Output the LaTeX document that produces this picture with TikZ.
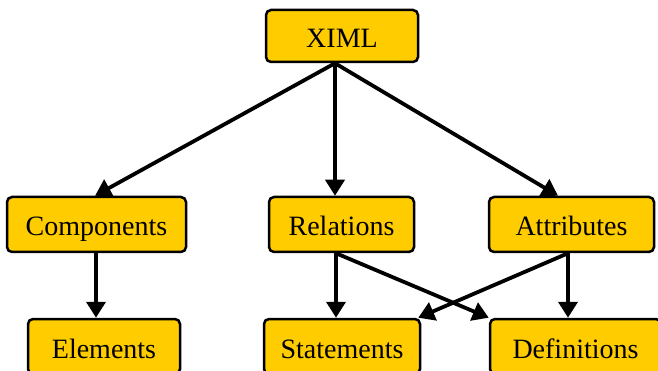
\documentclass[tikz,border=0pt]{standalone}
\usepackage{fontspec}
\setmainfont{Liberation Serif}
\usetikzlibrary{arrows.meta}
\definecolor{boxgold}{RGB}{255,204,0}
\tikzset{
  box/.style={draw=black, line width=2.5pt, fill=boxgold, rounded corners=5pt,
    inner sep=0pt, text height=27pt, text depth=4pt,
    font=\fontsize{28}{30}\selectfont, text=black},
  link/.style={line width=3.8pt, -{Triangle[length=16pt,width=19pt]}}
}
\begin{document}
\begin{tikzpicture}[x=1pt,y=-1pt]
\useasboundingbox (0,0) rectangle (658,371);
\clip (0,0) rectangle (658,371);
\node[box, minimum width=152pt, minimum height=52pt] (ximl) at (342,36) {XIML};
\node[box, minimum width=179pt, minimum height=55pt] (comp) at (96.5,224.5) {Components};
\node[box, minimum width=145pt, minimum height=55pt] (rel) at (341.5,224.5) {Relations};
\node[box, minimum width=165pt, minimum height=55pt] (attr) at (571.5,224.5) {Attributes};
\node[box, minimum width=152pt, minimum height=55pt] (elem) at (104,346.5) {Elements};
\node[box, minimum width=156pt, minimum height=55pt] (stat) at (342,346.5) {Statements};
\node[box, minimum width=171pt, minimum height=55pt] (defs) at (575.5,346.5) {Definitions};
\draw[link] ([xshift=-7pt]ximl.south) -- ([xshift=-1.5pt]comp.north);
\draw[link] ([xshift=-7pt]ximl.south) -- ([xshift=-6.5pt]rel.north);
\draw[link] ([xshift=-7pt]ximl.south) -- ([xshift=-13.5pt]attr.north);
\draw[link] ([xshift=-0.5pt]comp.south) -- ([xshift=-8pt]elem.north);
\draw[link] ([xshift=-5.5pt]rel.south) -- ([xshift=-6pt]stat.north);
\draw[link] ([xshift=-5.5pt]rel.south) -- (defs.north west);
\draw[link] ([xshift=-3.5pt]attr.south) -- ([xshift=-7.5pt]defs.north);
\draw[link] ([xshift=-3.5pt]attr.south) -- ([xshift=-3pt]stat.north east);
\end{tikzpicture}
\end{document}
